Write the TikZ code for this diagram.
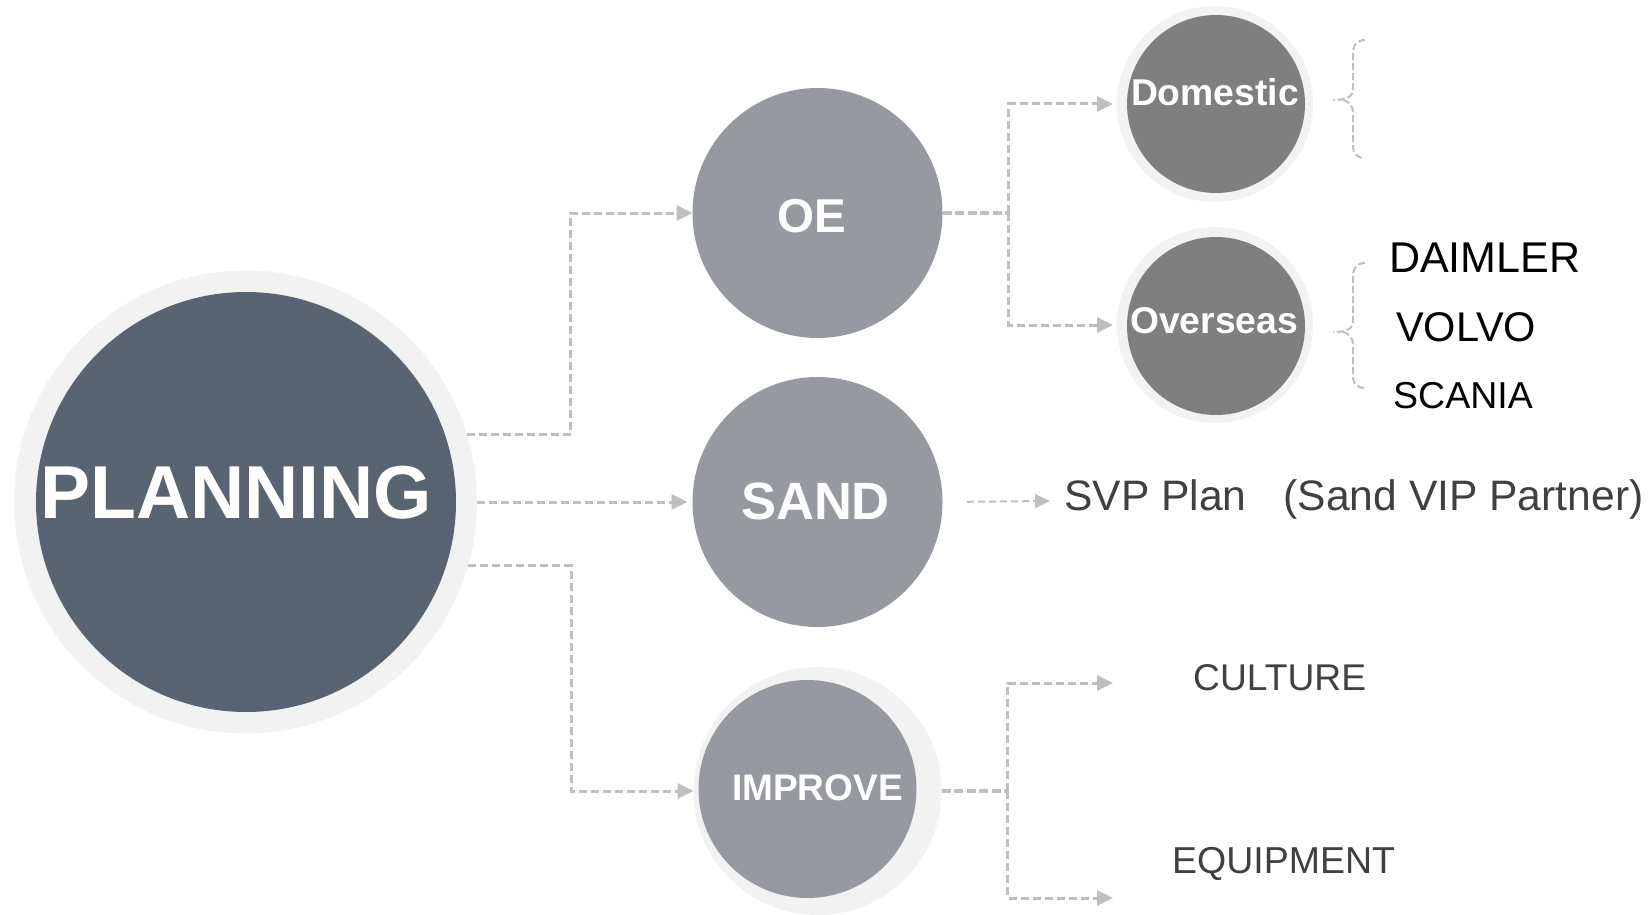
\documentclass[tikz,border=0pt]{standalone}
\usepackage{fontspec}
\setmainfont{Liberation Sans}
\usetikzlibrary{arrows.meta,calc}
\definecolor{ringc}{HTML}{F2F2F2}
\definecolor{planc}{HTML}{596473}
\definecolor{midc}{HTML}{96999F}
\definecolor{subc}{HTML}{7F7F7F}
\definecolor{connc}{HTML}{BFBFBF}
\definecolor{txtc}{HTML}{404040}
\newcommand{\fsz}[1]{\fontsize{#1}{#1}\selectfont}
\begin{document}
\begin{tikzpicture}[x=1pt,y=-1pt,
  disc/.style={circle,inner sep=0pt,outer sep=0pt,draw=none},
  conn/.style={draw=connc,line width=3pt,dash pattern=on 8pt off 4pt,-{Triangle[length=16pt,width=15pt]}},
  stub/.style={draw=connc,line width=4.5pt,dash pattern=on 9pt off 3.5pt},
  fineconn/.style={draw=connc,line width=2pt,dash pattern=on 7pt off 4pt,-{Triangle[length=15pt,width=14pt]}},
  bracepath/.style={draw=connc,line width=2pt,dash pattern=on 7pt off 3pt},
  wlabel/.style={text=white,inner sep=0pt,anchor=base},
  blabel/.style={inner sep=0pt,anchor=base west}
]
\useasboundingbox (0,0) rectangle (1652,915);

% circles
\node[disc,fill=ringc,minimum size=463pt] (planring) at (245.5,502) {};
\node[disc,fill=planc,minimum size=420pt] (plan) at (246,502) {};
\node[disc,fill=midc,minimum size=250pt] (oe) at (817.5,213) {};
\node[disc,fill=midc,minimum size=250pt] (sand) at (817.5,502) {};
\node[disc,fill=ringc,minimum size=248pt] (impring) at (817.5,791) {};
\node[disc,fill=midc,minimum size=218pt] (imp) at (807.5,789) {};
\node[disc,fill=ringc,minimum size=196pt] (domring) at (1215,104) {};
\node[disc,fill=subc,minimum size=178pt] (dom) at (1216,104) {};
\node[disc,fill=ringc,minimum size=196pt] (ovsring) at (1215,325) {};
\node[disc,fill=subc,minimum size=178pt] (ovs) at (1216,326) {};

% labels in circles
\node[wlabel,font=\bfseries\fsz{75}] (planT) at (236.5,518) {PLANNING};
\node[wlabel,font=\bfseries\fsz{47.5}] (oeT) at (811.5,232) {OE};
\node[wlabel,font=\bfseries\fsz{52.5}] (sandT) at (815.5,519) {SAND};
\node[wlabel,font=\bfseries\fsz{37}] (impT) at (817.5,800) {IMPROVE};
\node[wlabel,font=\bfseries\fsz{37.3}] (domT) at (1215,106) {Domestic};
\node[wlabel,font=\bfseries\fsz{37.3}] (ovsT) at (1214,333) {Overseas};

% side texts
\node[blabel,font=\fsz{43}] (daimler) at (1389,272) {DAIMLER};
\node[blabel,font=\fsz{41.5}] (volvo) at (1396,341) {VOLVO};
\node[blabel,font=\fsz{37.5}] (scania) at (1393,408) {SCANIA};
\node[blabel,font=\fsz{42.6},text=txtc] (svp) at (1064,510) {SVP Plan\hspace{37pt}(Sand VIP Partner)};
\node[blabel,font=\fsz{37.2},text=txtc] (culture) at (1193,690) {CULTURE};
\node[blabel,font=\fsz{37.5},text=txtc] (equip) at (1172,873) {EQUIPMENT};

% connectors from PLANNING
\draw[conn] (planring.17.6) -- ++(104,0) |- (oe.west);
\draw[conn,shorten >=5pt] (planring.east) -- (sand.west);
\draw[conn] (planring.-16.9) -- ++(103,0) |- (impring.west);

% OE branch
\draw[stub] (oe.east) -- ++(66,0) coordinate (oej);
\draw[conn,shorten >=4pt] (oej) |- (domring.west);
\draw[conn,shorten >=4pt] (oej) |- (ovsring.west);

% SAND branch
\coordinate (svpin) at (1050,501);
\draw[fineconn,shorten <=24.5pt] (sand.east) -- (svpin);

% IMPROVE branch
\draw[stub] (impring.east) -- ++(66,0) coordinate (impj);
\coordinate (culin) at (1113,683);
\coordinate (equin) at (1113,898);
\draw[conn] (impj) |- (culin);
\draw[conn] (impj) |- (equin);

% braces
\draw[bracepath] (1365,40) .. controls (1357,40) and (1353,45) .. (1353,54) -- (1353,88)
  .. controls (1353,96) and (1349,100) .. (1333,100);
\draw[bracepath] (1343,100) .. controls (1350,102) and (1353,106) .. (1353,113) -- (1353,146)
  .. controls (1353,154) and (1357,158) .. (1365,158);
\draw[bracepath] (1365,263) .. controls (1357,263) and (1353,268) .. (1353,277) -- (1353,320)
  .. controls (1353,328) and (1349,332) .. (1333,332);
\draw[bracepath] (1343,332) .. controls (1350,334) and (1353,338) .. (1353,345) -- (1353,376)
  .. controls (1353,384) and (1357,388) .. (1365,388);
\end{tikzpicture}
\end{document}
